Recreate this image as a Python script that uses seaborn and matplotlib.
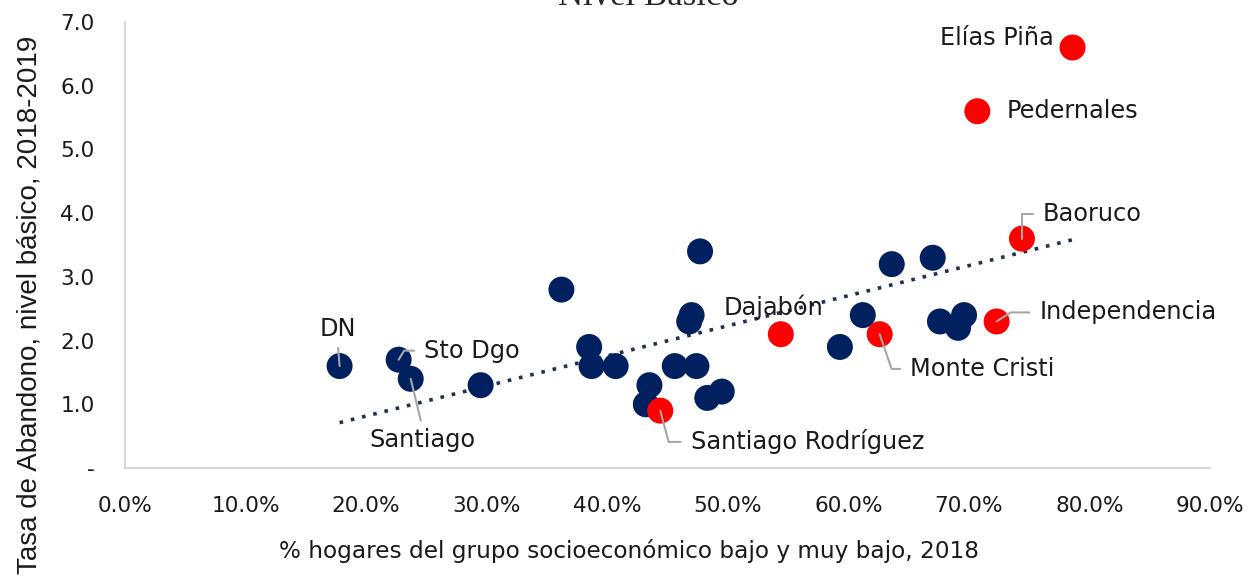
import matplotlib.pyplot as plt
import seaborn as sns
import numpy as np
import pandas as pd

# % hogares grupo socioeconómico bajo y muy bajo (2018) y tasa de abandono nivel básico
x_otros = [0.178, 0.227, 0.237, 0.295, 0.362, 0.385, 0.387, 0.407, 0.435, 0.432,
           0.470, 0.468, 0.477, 0.456, 0.474, 0.483, 0.495, 0.593, 0.612, 0.636,
           0.670, 0.676, 0.691, 0.696]
y_otros = [1.6, 1.7, 1.4, 1.3, 2.8, 1.9, 1.6, 1.6, 1.3, 1.0,
           2.4, 2.3, 3.4, 1.6, 1.6, 1.1, 1.2, 1.9, 2.4, 3.2,
           3.3, 2.3, 2.2, 2.4]
nombres_otros = ["DN", "Sto Dgo", "Santiago"] + [""] * 21

x_front = [0.444, 0.544, 0.626, 0.723, 0.744, 0.707, 0.786]
y_front = [0.9, 2.1, 2.1, 2.3, 3.6, 5.6, 6.6]
nombres_front = ["Santiago Rodríguez", "Dajabón", "Monte Cristi", "Independencia",
                 "Baoruco", "Pedernales", "Elías Piña"]

df = pd.DataFrame({
    "x": x_otros + x_front,
    "y": y_otros + y_front,
    "grupo": ["otro"] * len(x_otros) + ["frontera"] * len(x_front),
    "nombre": nombres_otros + nombres_front,
})

NAVY = "#002060"
RED = "#FF0000"
GRAY = "#A6A6A6"
TXT = "#1a1a1a"

sns.set_theme(style="white")
plt.rcParams['font.family'] = ['DejaVu Sans']

fig = plt.figure(figsize=(12.5, 5.87), dpi=100)
ax = fig.add_axes([0.1, 0.2027, 0.868, 0.7598])

# linea de tendencia (todas las provincias)
sns.regplot(data=df, x="x", y="y", scatter=False, ci=None, truncate=True, ax=ax,
            line_kws={"color": "#1F3050", "linestyle": (0, (1, 2.2)), "linewidth": 2.6})

sns.scatterplot(data=df, x="x", y="y", hue="grupo", hue_order=["otro", "frontera"],
                palette={"otro": NAVY, "frontera": RED}, s=350, linewidth=0,
                legend=False, ax=ax, zorder=3)

# etiquetas: (offset en puntos, alineacion, estilo de conector)
estilo = {
    "DN": ((-1.5, 27), "center", "vert"),
    "Sto Dgo": ((18.5, 6.5), "left", "angle,angleA=0,angleB=59"),
    "Santiago": ((8.5, -44), "center", "up"),
    "Santiago Rodríguez": ((22, -22.5), "left", "angle,angleA=0,angleB=-75"),
    "Dajabón": ((-5, 19.5), "center", None),
    "Monte Cristi": ((22, -25), "left", "angle,angleA=0,angleB=-71"),
    "Independencia": ((31, 6.5), "left", "angle,angleA=0,angleB=33"),
    "Baoruco": ((15, 18), "left", "angle,angleA=0,angleB=90"),
    "Pedernales": ((21, 0), "left", None),
    "Elías Piña": ((-13.5, 6.5), "right", None),
}

for _, r in df[df["nombre"] != ""].iterrows():
    off, ha, con = estilo[r["nombre"]]
    kw = dict(textcoords="offset points", xytext=off, ha=ha, va="center",
              fontsize=17.3, color=TXT)
    if con == "vert":
        kw["arrowprops"] = dict(arrowstyle="-", color=GRAY, lw=1.5, shrinkA=3, shrinkB=0,
                                relpos=(0.5, 0))
    elif con == "up":
        kw["arrowprops"] = dict(arrowstyle="-", color=GRAY, lw=1.5, shrinkA=3, shrinkB=0,
                                relpos=(0.5, 1))
    elif con is not None:
        kw["arrowprops"] = dict(arrowstyle="-", color=GRAY, lw=1.5, shrinkA=5, shrinkB=0,
                                relpos=(0, 0.5), connectionstyle=con)
    ax.annotate(r["nombre"], xy=(r["x"], r["y"]), zorder=4, **kw)

ax.set_xlim(0, 0.9)
ax.set_ylim(0, 7)
ax.set_xticks(np.arange(0, 0.91, 0.1))
ax.set_xticklabels([f"{v*100:.1f}%" for v in np.arange(0, 0.91, 0.1)])
ax.set_yticks(range(8))
ax.set_yticklabels(["-"] + [f"{v:.1f}" for v in range(1, 8)])
ax.tick_params(axis="both", length=0, labelsize=15.6, colors=TXT)
ax.tick_params(axis="x", pad=20)
ax.tick_params(axis="y", pad=22)

for s in ["top", "right"]:
    ax.spines[s].set_visible(False)
for s in ["left", "bottom"]:
    ax.spines[s].set_color("#D0D0D0")
    ax.spines[s].set_linewidth(1.2)

ax.set_xlabel("% hogares del grupo socioeconómico bajo y muy bajo, 2018",
              fontsize=16.7, color=TXT, labelpad=17)
ax.xaxis.label.set_x(0.4645)
ax.set_ylabel("Tasa de Abandono, nivel básico, 2018-2019",
              fontsize=20, color=TXT, family="Liberation Sans")
ax.yaxis.set_label_coords(-0.0756, 0.365)

fig.text(0.519, 0.992, "Nivel Básico", ha="center", va="baseline",
         fontsize=25, family="Liberation Serif")

fig.savefig("out.png", dpi=100)
